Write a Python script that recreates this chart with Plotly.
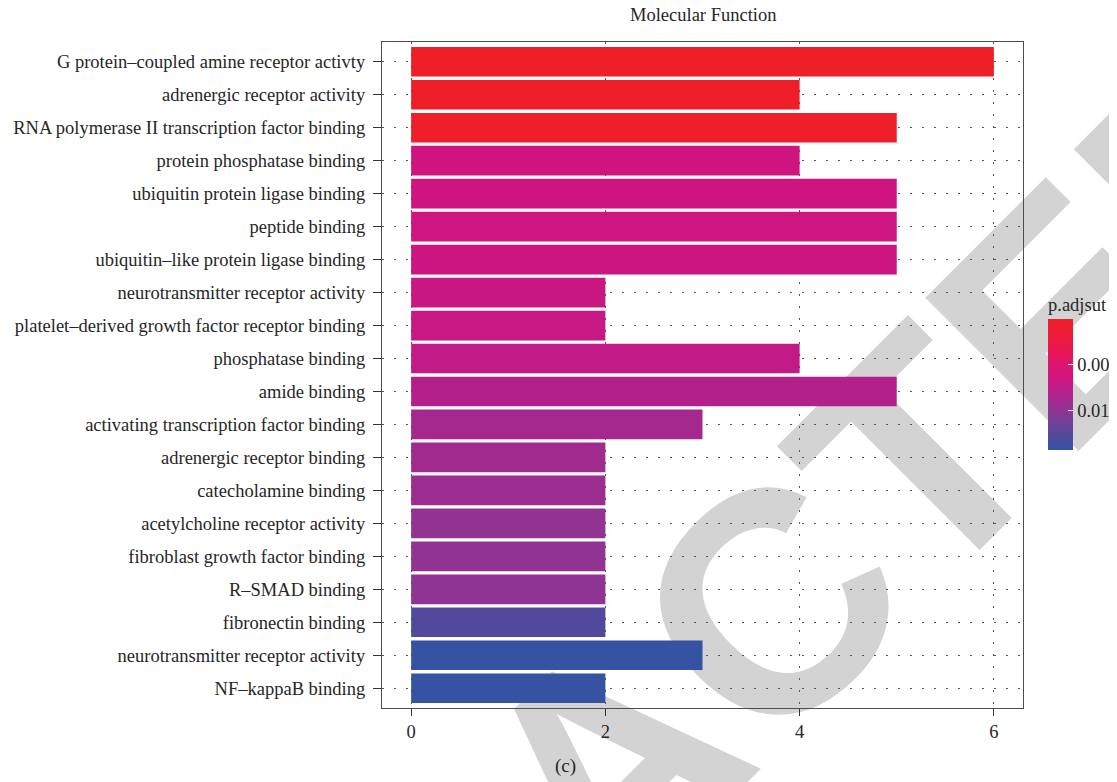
import plotly.graph_objects as go

terms = [
    "G protein–coupled amine receptor activty",
    "adrenergic receptor activity",
    "RNA polymerase II transcription factor binding",
    "protein phosphatase binding",
    "ubiquitin protein ligase binding",
    "peptide binding",
    "ubiquitin–like protein ligase binding",
    "neurotransmitter receptor activity",
    "platelet–derived growth factor receptor binding",
    "phosphatase binding",
    "amide binding",
    "activating transcription factor binding",
    "adrenergic receptor binding",
    "catecholamine binding",
    "acetylcholine receptor activity",
    "fibroblast growth factor binding",
    "R–SMAD binding",
    "fibronectin binding",
    "neurotransmitter receptor activity",
    "NF–kappaB binding",
]
counts = [6, 4, 5, 4, 5, 5, 5, 2, 2, 4, 5, 3, 2, 2, 2, 2, 2, 2, 3, 2]
padj = [0.0002, 0.0003, 0.0005, 0.0064, 0.0064, 0.0065, 0.0066, 0.0068, 0.0069, 0.0072,
        0.0080, 0.0088, 0.0090, 0.0093, 0.0098, 0.0099, 0.0100, 0.0128, 0.0142, 0.0142]
x_ticks = [0, 2, 4, 6]
cbar_ticks = [0.005, 0.010]
cbar_ticktext = ["0.005", "0.010"]
p_max = 0.0143

n = len(terms)
ypos = [n - 1 - i for i in range(n)]
neg_padj = [-p for p in padj]

FONT = "Liberation Serif"
TXT = "#262626"

colorscale = [
    [0.00, "#3453A4"],
    [0.15, "#5E4699"],
    [0.30, "#8E3492"],
    [0.45, "#B61F8C"],
    [0.55, "#D0147F"],
    [0.65, "#DC1570"],
    [0.80, "#EC1848"],
    [1.00, "#EE1F25"],
]

# figure sits 8px inside the page (default body margin)
W, H = 1117, 782
L, T = 374, 34
PW, PH = 641, 666
R, B = W - L - PW, H - T - PH

def px(xpage):
    return (xpage - 382) / PW

def py(ypage):
    return (708 - ypage) / PH

fig = go.Figure()
fig.add_trace(go.Bar(
    x=counts, y=ypos, orientation="h", width=0.9,
    marker=dict(
        color=neg_padj, colorscale=colorscale, cmin=-p_max, cmax=0,
        line=dict(width=0),
        showscale=True,
        colorbar=dict(
            title=dict(text="p.adjsut", side="top", font=dict(family=FONT, size=18.5, color=TXT)),
            tickvals=[-v for v in cbar_ticks], ticktext=cbar_ticktext,
            tickfont=dict(family=FONT, size=18.5, color=TXT),
            ticks="inside", ticklen=5, tickcolor="white", tickwidth=1,
            thickness=25, thicknessmode="pixels",
            len=156, lenmode="pixels",
            x=px(1048), xanchor="left", xref="paper",
            y=py(372), yanchor="middle", yref="paper",
            outlinewidth=0, ypad=0, xpad=0,
        ),
    ),
    hoverinfo="x",
))

# Watermark, drawn beneath grid and bars
wx, wy = px(588), py(745)
fig.add_shape(
    type="rect", xref="paper", yref="paper",
    x0=wx - 0.002, x1=wx + 0.002, y0=wy - 0.002, y1=wy + 0.002,
    line=dict(width=0), fillcolor="rgba(0,0,0,0)", layer="below",
    label=dict(text="RETRACTED", textposition="middle center", textangle=-45,
               font=dict(family="Liberation Sans", size=315, color="#D3D3D3", weight="bold")),
)

fig.update_xaxes(
    range=[-0.3, 6.3], tickvals=x_ticks, ticktext=[str(v) for v in x_ticks],
    showgrid=True, gridcolor="#555555", gridwidth=1, griddash="1.5px,10.5px",
    zeroline=False, showline=True, mirror=True, linecolor="#4d4d4d", linewidth=1.3,
    ticks="outside", ticklen=7, tickcolor="#333333", tickwidth=1.3,
    tickfont=dict(family=FONT, size=18.5, color=TXT),
)
fig.update_yaxes(
    range=[-0.6, n - 0.4], tickvals=ypos, ticktext=terms,
    showgrid=True, gridcolor="#555555", gridwidth=1, griddash="1.5px,10.5px",
    zeroline=False, showline=True, mirror=True, linecolor="#4d4d4d", linewidth=1.3,
    ticks="outside", ticklen=8, tickcolor="#333333", tickwidth=1.3,
    ticklabelstandoff=4,
    tickfont=dict(family=FONT, size=18.5, color=TXT),
)

fig.add_annotation(text="Molecular Function", xref="paper", yref="paper",
                   x=0.5, y=py(15), xanchor="center", yanchor="middle",
                   showarrow=False, font=dict(family=FONT, size=18.5, color=TXT))
fig.add_annotation(text="(c)", xref="paper", yref="paper",
                   x=px(565), y=py(766), xanchor="center", yanchor="middle",
                   showarrow=False, font=dict(family=FONT, size=19, color=TXT))

fig.update_layout(
    width=W, height=H,
    margin=dict(l=L, r=R, t=T, b=B, autoexpand=False),
    paper_bgcolor="white", plot_bgcolor="rgba(0,0,0,0)",
    showlegend=False, bargap=0.1,
)

fig.write_html("out.html")
